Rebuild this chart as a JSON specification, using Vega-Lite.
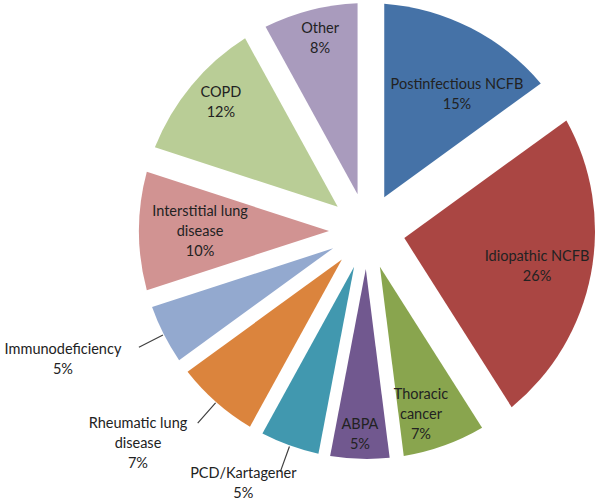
{
  "$schema": "https://vega.github.io/schema/vega-lite/v6.json",
  "width": 466,
  "height": 462,
  "autosize": "none",
  "padding": {"left": 134, "top": 0, "right": 0, "bottom": 40},
  "background": "white",
  "view": {"stroke": null},
  "data": {
    "values": [
      {"order": 1, "name": "Postinfectious NCFB", "value": 15, "label": "Postinfectious NCFB\n15%"},
      {"order": 2, "name": "Idiopathic NCFB", "value": 26, "label": "Idiopathic NCFB\n26%"},
      {"order": 3, "name": "Thoracic cancer", "value": 7, "label": "Thoracic\ncancer\n7%"},
      {"order": 4, "name": "ABPA", "value": 5, "label": "ABPA\n5%"},
      {"order": 5, "name": "PCD/Kartagener", "value": 5, "label": "PCD/Kartagener\n5%"},
      {"order": 6, "name": "Rheumatic lung disease", "value": 7, "label": "Rheumatic lung\ndisease\n7%"},
      {"order": 7, "name": "Immunodeficiency", "value": 5, "label": "Immunodeficiency\n5%"},
      {"order": 8, "name": "Interstitial lung disease", "value": 10, "label": "Interstitial lung\ndisease\n10%"},
      {"order": 9, "name": "COPD", "value": 12, "label": "COPD\n12%"},
      {"order": 10, "name": "Other", "value": 8, "label": "Other\n8%"}
    ]
  },
  "encoding": {
    "theta": {"field": "value", "type": "quantitative", "stack": true},
    "order": {"field": "order", "type": "quantitative"},
    "detail": {"field": "name", "type": "nominal"}
  },
  "layer": [
    {
      "encoding": {
        "color": {
          "field": "name",
          "type": "nominal",
          "legend": null,
          "scale": {
            "domain": ["Postinfectious NCFB", "Idiopathic NCFB", "Thoracic cancer", "ABPA", "PCD/Kartagener", "Rheumatic lung disease", "Immunodeficiency", "Interstitial lung disease", "COPD", "Other"],
            "range": ["#4572A7", "#AA4643", "#89A54E", "#71588F", "#4198AF", "#DB843D", "#93A9CF", "#D19392", "#B9CD96", "#A99BBD"]
          }
        }
      },
      "layer": [
        {"mark": {"type": "arc", "radius": 228, "radius2": 38, "padAngle": 0.0515}, "encoding": {"opacity": {"condition": {"test": "datum.value === 5", "value": 1}, "value": 0}}},
        {"mark": {"type": "arc", "radius": 228, "radius2": 38, "padAngle": 0.0718}, "encoding": {"opacity": {"condition": {"test": "datum.value === 7", "value": 1}, "value": 0}}},
        {"mark": {"type": "arc", "radius": 228, "radius2": 38, "padAngle": 0.0819}, "encoding": {"opacity": {"condition": {"test": "datum.value === 8", "value": 1}, "value": 0}}},
        {"mark": {"type": "arc", "radius": 228, "radius2": 38, "padAngle": 0.1017}, "encoding": {"opacity": {"condition": {"test": "datum.value === 10", "value": 1}, "value": 0}}},
        {"mark": {"type": "arc", "radius": 228, "radius2": 38, "padAngle": 0.1212}, "encoding": {"opacity": {"condition": {"test": "datum.value === 12", "value": 1}, "value": 0}}},
        {"mark": {"type": "arc", "radius": 228, "radius2": 38, "padAngle": 0.1495}, "encoding": {"opacity": {"condition": {"test": "datum.value === 15", "value": 1}, "value": 0}}},
        {"mark": {"type": "arc", "radius": 228, "radius2": 38, "padAngle": 0.2404}, "encoding": {"opacity": {"condition": {"test": "datum.value === 26", "value": 1}, "value": 0}}}
      ]
    },
    {
      "mark": {"type": "arc", "radius": 256, "radius2": 229, "padAngle": 0.6, "filled": false, "strokeWidth": 1.2},
      "encoding": {
        "stroke": {
          "condition": {"test": "indexof(['PCD/Kartagener','Rheumatic lung disease','Immunodeficiency'], datum.name) >= 0", "value": "#404040"},
          "value": "transparent"
        }
      }
    },
    {
      "mark": {"type": "text", "radius": 171.5, "thetaOffset": 0.081, "font": "Lato", "fontSize": 14.5, "lineHeight": 20, "lineBreak": "\n", "align": "center", "baseline": "middle", "color": "#222222"},
      "encoding": {"text": {"condition": {"test": "datum.name === 'Postinfectious NCFB'", "field": "label", "type": "nominal"}, "value": ""}}
    },
    {
      "mark": {"type": "text", "radius": 172, "thetaOffset": -0.037, "font": "Lato", "fontSize": 14.5, "lineHeight": 20, "lineBreak": "\n", "align": "center", "baseline": "middle", "color": "#222222"},
      "encoding": {"text": {"condition": {"test": "datum.name === 'Idiopathic NCFB'", "field": "label", "type": "nominal"}, "value": ""}}
    },
    {
      "mark": {"type": "text", "radius": 172.7, "thetaOffset": 0.028, "font": "Lato", "fontSize": 14.5, "lineHeight": 20, "lineBreak": "\n", "align": "center", "baseline": "middle", "color": "#222222"},
      "encoding": {"text": {"condition": {"test": "datum.name === 'Thoracic cancer'", "field": "label", "type": "nominal"}, "value": ""}}
    },
    {
      "mark": {"type": "text", "radius": 194, "thetaOffset": 0.005, "font": "Lato", "fontSize": 14.5, "lineHeight": 20, "lineBreak": "\n", "align": "center", "baseline": "middle", "color": "#222222"},
      "encoding": {"text": {"condition": {"test": "datum.name === 'ABPA'", "field": "label", "type": "nominal"}, "value": ""}}
    },
    {
      "mark": {"type": "text", "radius": 272.8, "thetaOffset": 0.125, "font": "Lato", "fontSize": 14.5, "lineHeight": 20, "lineBreak": "\n", "align": "center", "baseline": "middle", "color": "#222222"},
      "encoding": {"text": {"condition": {"test": "datum.name === 'PCD/Kartagener'", "field": "label", "type": "nominal"}, "value": ""}}
    },
    {
      "mark": {"type": "text", "radius": 299.5, "thetaOffset": 0.148, "font": "Lato", "fontSize": 14.5, "lineHeight": 20, "lineBreak": "\n", "align": "center", "baseline": "middle", "color": "#222222"},
      "encoding": {"text": {"condition": {"test": "datum.name === 'Rheumatic lung disease'", "field": "label", "type": "nominal"}, "value": ""}}
    },
    {
      "mark": {"type": "text", "radius": 326.5, "thetaOffset": 0.098, "font": "Lato", "fontSize": 14.5, "lineHeight": 20, "lineBreak": "\n", "align": "center", "baseline": "middle", "color": "#222222"},
      "encoding": {"text": {"condition": {"test": "datum.name === 'Immunodeficiency'", "field": "label", "type": "nominal"}, "value": ""}}
    },
    {
      "mark": {"type": "text", "radius": 168, "thetaOffset": 0.113, "font": "Lato", "fontSize": 14.5, "lineHeight": 20, "lineBreak": "\n", "align": "center", "baseline": "middle", "color": "#222222"},
      "encoding": {"text": {"condition": {"test": "datum.name === 'Interstitial lung disease'", "field": "label", "type": "nominal"}, "value": ""}}
    },
    {
      "mark": {"type": "text", "radius": 201, "thetaOffset": 0.066, "font": "Lato", "fontSize": 14.5, "lineHeight": 20, "lineBreak": "\n", "align": "center", "baseline": "middle", "color": "#222222"},
      "encoding": {"text": {"condition": {"test": "datum.name === 'COPD'", "field": "label", "type": "nominal"}, "value": ""}}
    },
    {
      "mark": {"type": "text", "radius": 207.4, "thetaOffset": 0.023, "font": "Lato", "fontSize": 14.5, "lineHeight": 20, "lineBreak": "\n", "align": "center", "baseline": "middle", "color": "#222222"},
      "encoding": {"text": {"condition": {"test": "datum.name === 'Other'", "field": "label", "type": "nominal"}, "value": ""}}
    }
  ]
}
